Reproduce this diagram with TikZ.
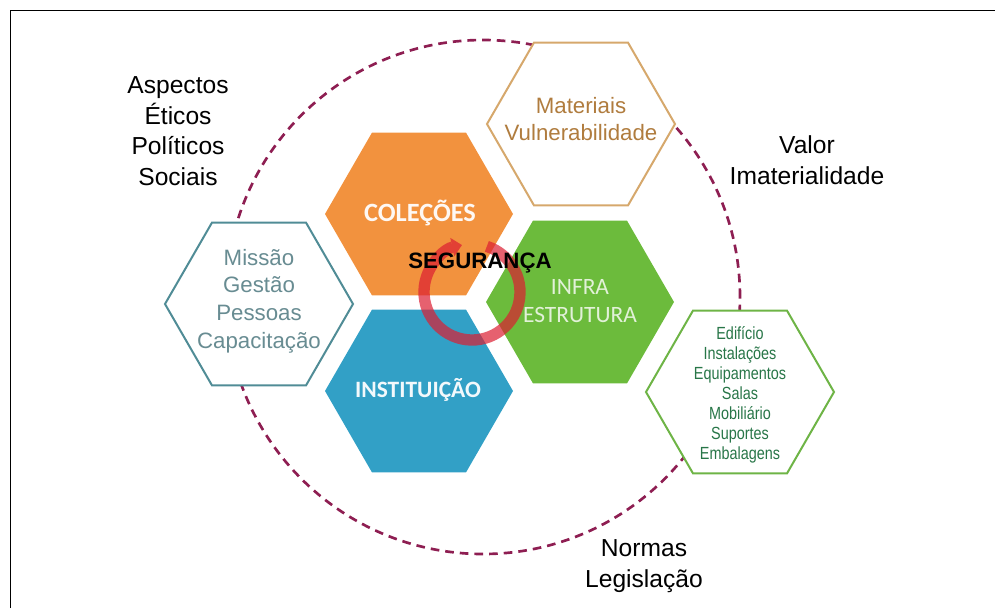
\documentclass[tikz,border=0pt]{standalone}
\usepackage{fontspec}
\setmainfont{Liberation Sans}
\newfontfamily\calibri{Carlito}
\newfontfamily\narrowsans[FakeStretch=0.82]{Liberation Sans}
\usepackage{tikz}
\usetikzlibrary{arrows.meta,shapes.geometric}
\definecolor{hexOrange}{RGB}{242,146,62}
\definecolor{hexBlue}{RGB}{50,160,198}
\definecolor{hexGreen}{RGB}{108,187,60}
\definecolor{tanLine}{RGB}{214,168,108}
\definecolor{tanText}{RGB}{176,124,62}
\definecolor{tealLine}{RGB}{80,140,150}
\definecolor{tealText}{RGB}{104,140,146}
\definecolor{leafLine}{RGB}{110,180,70}
\definecolor{leafText}{RGB}{40,118,72}
\definecolor{rimColor}{RGB}{142,30,82}
\definecolor{ringColor}{RGB}{220,30,50}

\begin{document}
\begin{tikzpicture}[x=0.3mm, y=-0.3mm,
  hexa/.style={regular polygon, regular polygon sides=6, minimum size=56.4mm, inner sep=0pt},
  hexline/.style={hexa, draw=#1, fill=white, line width=0.6mm},
  hexfill/.style={hexa, fill=#1},
  txt/.style={align=center, font=\fontsize{19}{23.5}\selectfont},
  big/.style={align=center, font=\fontsize{21}{26}\selectfont},
  caps/.style={align=center, font=\calibri\bfseries\fontsize{#1}{24}\selectfont},
  rim/.style={draw=rimColor, line width=0.8mm, dash pattern=on 2.6mm off 1.8mm},
  ring/.style={draw=ringColor, line width=3.4mm, -{Triangle[length=3mm,width=5.5mm]}}
]
\useasboundingbox (0,0) rectangle (995,608);
\draw[line width=0.3mm] (10.5,608) -- (10.5,10.5) -- (995,10.5);

\coordinate (mid) at (483,297);
\draw[rim] (mid) circle[radius=77.1mm];

\node[hexline=tanLine] (materiais) at (581,124) {};
\node[hexline=tealLine] (missao) at (259,304) {};
\node[hexline=leafLine] (edificio) at (740,392) {};
\node[hexfill=hexOrange] (colecoes) at (419,214) {};
\node[hexfill=hexBlue] (instituicao) at (419,391) {};
\node[hexfill=hexGreen] (infra) at (580,302) {};

\node[txt, text=tanText] (materiais-t) at (581,119) {Materiais\\Vulnerabilidade};
\node[txt, text=tealText] (missao-t) at (259,301) {Missão\\Gestão\\Pessoas\\Capacitação};
\node[align=center, text=leafText, font=\narrowsans\fontsize{15}{17}\selectfont] (edificio-t) at (740,395)
  {Edifício\\Instalações\\Equipamentos\\Salas\\Mobiliário\\Suportes\\Embalagens};
\node[caps=22.5, text=white!94!hexOrange] (colecoes-t) at (420,213) {COLEÇÕES};
\node[caps=20, text=white!94!hexBlue] (instituicao-t) at (418,390) {INSTITUIÇÃO};
\node[align=center, text=white!80!hexGreen, font=\calibri\fontsize{20}{23.5}\selectfont] (infra-t) at (580,301) {INFRA\\ESTRUTURA};

\coordinate (ring) at (472,292);
\begin{scope}[transparency group, opacity=0.7]
\draw[ring] ([shift={(72:14.4mm)}]ring) arc[start angle=72, end angle=-258, radius=14.4mm];
\end{scope}
\node[font=\bfseries\fontsize{19}{23}\selectfont] (seguranca) at (480,263) {SEGURANÇA};

\node[big] (aspectos) at (178,131) {Aspectos\\Éticos\\Políticos\\Sociais};
\node[big] (valor) at (807,160) {Valor\\Imaterialidade};
\node[big] (normas) at (644,566) {Normas\\Legislação};
\end{tikzpicture}
\end{document}
